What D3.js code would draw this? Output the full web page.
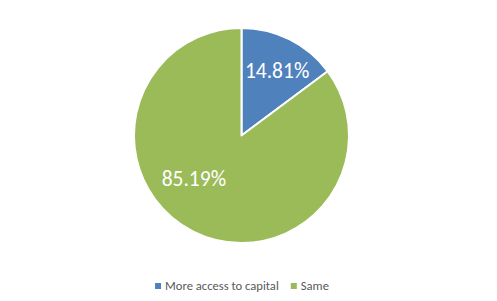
<!DOCTYPE html>
<html>
<head>
<meta charset="utf-8">
<script src="https://cdn.jsdelivr.net/npm/d3@7"></script>
<style>
  body { margin: 0; background: #fff; }
  svg { display: block; font-family: Calibri, Carlito, Lato, "Liberation Sans", Arial, sans-serif; }
</style>
</head>
<body>
<div id="chart"></div>
<script>
// data
const categories = ["More access to capital", "Same"];
const values = [14.81, 85.19];
const colors = ["#4F81BD", "#9BBB59"];
const labelText = ["14.81%", "85.19%"];

// label placement (fraction of radius, extra angle in degrees), like Excel's "best fit"
const labelRadius = [0.69, 0.6];
const labelShift = [2, 21];

const width = 497, height = 301;
const cx = 241.5, cy = 135.5, radius = 107.5;

const svg = d3.select("#chart").append("svg")
  .attr("width", width)
  .attr("height", height);

// title is cut off at the top edge, only a descender shows
svg.append("text")
  .attr("x", 241)
  .attr("y", -3)
  .attr("text-anchor", "middle")
  .attr("font-size", "19px")
  .attr("fill", "#7f7f7f")
  .text("g");

const pie = d3.pie().sort(null).value(d => d);
const arcs = pie(values);
const arc = d3.arc().innerRadius(0).outerRadius(radius);

const g = svg.append("g").attr("transform", "translate(" + cx + "," + cy + ")");

g.selectAll("path")
  .data(arcs)
  .enter()
  .append("path")
  .attr("d", arc)
  .attr("fill", (d, i) => colors[i])
  .attr("stroke", "#fff")
  .attr("stroke-width", 2)
  .attr("stroke-linejoin", "round");

// data labels
g.selectAll("text.lbl")
  .data(arcs)
  .enter()
  .append("text")
  .attr("class", "lbl")
  .attr("transform", (d, i) => {
    const a = (d.startAngle + d.endAngle) / 2 + labelShift[i] * Math.PI / 180;
    const r = radius * labelRadius[i];
    return "translate(" + (r * Math.sin(a)) + "," + (-r * Math.cos(a)) + ")";
  })
  .attr("dy", "0.35em")
  .attr("text-anchor", "middle")
  .attr("font-size", "21.5px")
  .attr("fill", "#fff")
  .text((d, i) => labelText[i]);

// legend
const legend = svg.append("g").attr("class", "legend");
const items = legend.selectAll("g")
  .data(categories)
  .enter()
  .append("g");
items.append("rect")
  .attr("width", 6)
  .attr("height", 6)
  .attr("y", -7)
  .attr("fill", (d, i) => colors[i]);
items.append("text")
  .attr("x", 10)
  .attr("font-size", "12.6px")
  .attr("fill", "#595959")
  .text(d => d);

let xPos = 0;
const gap = 12;
items.each(function () {
  const w = this.querySelector("text").getComputedTextLength() + 10;
  d3.select(this).attr("transform", "translate(" + xPos + ",0)");
  xPos += w + gap;
});
const total = xPos - gap;
legend.attr("transform", "translate(" + (242 - total / 2) + ",290)");
</script>
</body>
</html>
